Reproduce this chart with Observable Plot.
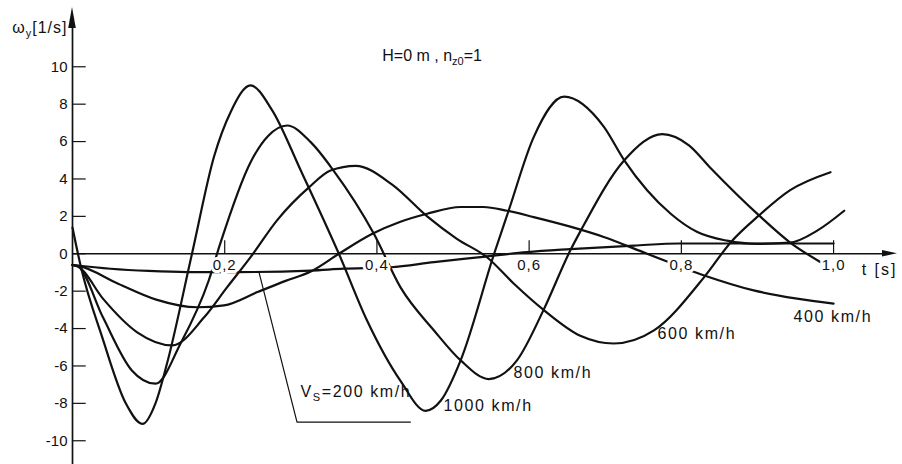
<!DOCTYPE html>
<html><head><meta charset="utf-8">
<script src="https://cdn.jsdelivr.net/npm/d3@7"></script>
<script src="https://cdn.jsdelivr.net/npm/@observablehq/plot@0.6"></script>
<style>
html,body{margin:0;padding:0;background:#fff;}
</style></head><body>
<script>
// ---- data ----
const speeds = ["200", "400", "600", "800", "1000"];

const t200  = [0, 0.05, 0.1, 0.151, 0.216, 0.313, 0.356, 0.418, 0.475, 0.536, 0.597, 0.654, 0.738, 0.797, 0.9, 1.0];
const w200  = [-0.6, -0.8, -0.92, -0.98, -0.98, -0.9, -0.8, -0.72, -0.45, -0.18, 0.09, 0.25, 0.44, 0.55, 0.55, 0.55];

const t400  = [0, 0.008, 0.06, 0.11, 0.164, 0.199, 0.243, 0.28, 0.313, 0.35, 0.394, 0.43, 0.466, 0.51, 0.54, 0.571, 0.606, 0.654, 0.698, 0.755, 0.83, 0.895, 0.952, 1.0];
const w400  = [-0.6, -0.65, -1.6, -2.45, -2.86, -2.76, -2.05, -1.45, -0.95, 0, 1.07, 1.7, 2.14, 2.5, 2.5, 2.3, 1.96, 1.45, 0.9, 0, -1.16, -1.96, -2.4, -2.67];

const t600  = [0, 0.008, 0.04, 0.085, 0.131, 0.173, 0.203, 0.234, 0.269, 0.311, 0.339, 0.372, 0.42, 0.466, 0.505, 0.545, 0.58, 0.619, 0.668, 0.711, 0.764, 0.83, 0.865, 0.902, 0.943, 0.996];
const w600  = [-0.6, -0.7, -2.4, -4.2, -4.9, -3.4, -1.8, -0.18, 1.8, 3.56, 4.45, 4.7, 3.7, 2.0, 0.8, -0.2, -1.6, -3.0, -4.4, -4.8, -4.1, -1.25, 0.62, 2.05, 3.4, 4.36];

const t800  = [0, 0.008, 0.04, 0.078, 0.109, 0.142, 0.179, 0.194, 0.234, 0.257, 0.282, 0.313, 0.343, 0.396, 0.431, 0.475, 0.51, 0.547, 0.584, 0.619, 0.654, 0.668, 0.725, 0.775, 0.81, 0.838, 0.902, 0.943, 0.983];
const w800  = [-0.6, -0.7, -3.4, -6.24, -6.95, -4.8, -1.43, 0.53, 4.9, 6.3, 6.86, 5.97, 4.45, 1.07, -1.8, -4.1, -5.7, -6.7, -5.7, -3.0, 0.17, 1.25, 5.0, 6.4, 5.8, 4.6, 2.05, 0.6, -0.45];

const t1000 = [0, 0.011, 0.039, 0.07, 0.092, 0.109, 0.124, 0.157, 0.186, 0.208, 0.234, 0.262, 0.3, 0.35, 0.387, 0.431, 0.464, 0.484, 0.51, 0.554, 0.573, 0.606, 0.646, 0.698, 0.725, 0.755, 0.786, 0.821, 0.86, 0.899, 0.943, 0.979, 1.014];
const w1000 = [1.4, -0.7, -4.46, -8.0, -9.1, -8.0, -5.9, 0, 5.2, 7.6, 9.0, 7.7, 4.45, 0, -3.57, -6.8, -8.4, -7.85, -5.7, 0, 2.3, 6.24, 8.4, 6.8, 5.0, 3.4, 2.14, 1.16, 0.7, 0.53, 0.6, 1.25, 2.3];

const xTicks = [0.2, 0.4, 0.6, 0.8, 1.0];
const xTickLabels = ["0,2", "0,4", "0,6", "0,8", "1,0"];
const yTicks = [-10, -8, -6, -4, -2, 0, 2, 4, 6, 8, 10];

const curveLabels = ["V_{S}=200 km/h", "400 km/h", "600 km/h", "800 km/h", "1000 km/h"];
const curveLabelT = [0.2996, 0.9474, 0.7687, 0.5795, 0.4875];
const curveLabelW = [-7.4, -3.39, -4.3, -6.39, -8.16];

const leaderT = [0.245, 0.295, 0.444];
const leaderW = [-0.98, -9.0, -9.0];

const titleText = "H=0 m , n_{z0}=1";
const yLabel = "ω_{y}[1/s]";
const xLabel = "t [s]";

// ---- build rows ----
const series = {"200": [t200, w200], "400": [t400, w400], "600": [t600, w600], "800": [t800, w800], "1000": [t1000, w1000]};
const rows = speeds.flatMap(s => series[s][0].map((t, i) => ({speed: s, t, w: series[s][1][i]})));
const leader = leaderT.map((t, i) => ({t, w: leaderW[i]}));

const X_MAX = 1.084, Y_MIN = -11.27, Y_MAX = 13.17;
const ink = "#111";

const plot = Plot.plot({
  width: 902, height: 464,
  marginLeft: 72, marginRight: 5, marginTop: 7, marginBottom: 0,
  x: {domain: [0, X_MAX], axis: null},
  y: {domain: [Y_MIN, Y_MAX], axis: null},
  style: {fontFamily: "'Liberation Sans', Arial, sans-serif", fontSize: "15px", color: ink, background: "white", overflow: "visible"},
  marks: [
    Plot.ruleX([0], {y1: Y_MIN, y2: 12.1, stroke: ink, strokeWidth: 1.7}),
    Plot.ruleY([0], {x1: 0, x2: X_MAX - 0.01, stroke: ink, strokeWidth: 1.3}),
    Plot.ruleY(yTicks, {x1: 0, x2: 0.018, stroke: ink, strokeWidth: 1.2}),
    Plot.ruleX(xTicks, {y1: 0, y2: 0.7, stroke: ink, strokeWidth: 1.2}),
    Plot.line(rows, {x: "t", y: "w", z: "speed", curve: "monotone-x", stroke: ink, strokeWidth: 2.2}),
    Plot.line(leader, {x: "t", y: "w", stroke: ink, strokeWidth: 1.2}),
    Plot.text(xTicks, {x: d => d, y: 0, dy: 11, text: (d, i) => xTickLabels[i], fill: ink, stroke: "white", strokeWidth: 6}),
    Plot.text(yTicks, {x: 0, y: d => d, dx: -5, textAnchor: "end", text: d => String(d), fill: ink}),
    Plot.text(curveLabels, {x: curveLabelT, y: curveLabelW, text: d => d, textAnchor: "start", fontSize: 16, fill: ink}),
    Plot.text([titleText], {x: 0.407, y: 10.56, text: d => d, textAnchor: "start", fontSize: 16, fill: ink}),
    Plot.text([yLabel], {x: 0, y: 12.07, dx: -5, text: d => d, textAnchor: "end", fontSize: 16, fill: ink}),
    Plot.text([xLabel], {x: X_MAX, y: 0, dy: 16, text: d => d, textAnchor: "end", fontSize: 16, fill: ink})
  ]
});
document.body.appendChild(plot);

// ---- post-processing: subscripts, letter spacing, arrowheads ----
const NS = "http://www.w3.org/2000/svg";
d3.select(plot).selectAll("text").each(function () {
  const s = this.textContent;
  if (/km\/h/.test(s)) this.setAttribute("letter-spacing", "1.6");
  if (/^\d,\d$/.test(s)) this.setAttribute("letter-spacing", "1");
  if (s === xLabel) this.setAttribute("letter-spacing", "2");
  if (!s.includes("_{")) return;
  if (s === yLabel) this.setAttribute("letter-spacing", "1");
  this.textContent = "";
  let shifted = false;
  s.split(/(_\{[^}]*\})/).forEach(p => {
    if (!p) return;
    const ts = document.createElementNS(NS, "tspan");
    if (p.startsWith("_{")) {
      ts.textContent = p.slice(2, -1);
      ts.setAttribute("dy", "4");
      ts.setAttribute("font-size", "11");
      shifted = true;
    } else {
      ts.textContent = p;
      if (shifted) { ts.setAttribute("dy", "-4"); shifted = false; }
    }
    this.appendChild(ts);
  });
});

const sx = plot.scale("x"), sy = plot.scale("y");
const x0 = sx.apply(0), y0 = sy.apply(0), yTop = sy.apply(Y_MAX), xEnd = sx.apply(X_MAX);
const svg = d3.select(plot);
svg.append("path").attr("d", `M${x0},${yTop} L${x0 - 3.8},${yTop + 21} L${x0 + 3.8},${yTop + 21} Z`).attr("fill", ink);
svg.append("path").attr("d", `M${xEnd},${y0} L${xEnd - 15},${y0 - 3.2} L${xEnd - 15},${y0 + 3.2} Z`).attr("fill", ink);
</script>
</body></html>
